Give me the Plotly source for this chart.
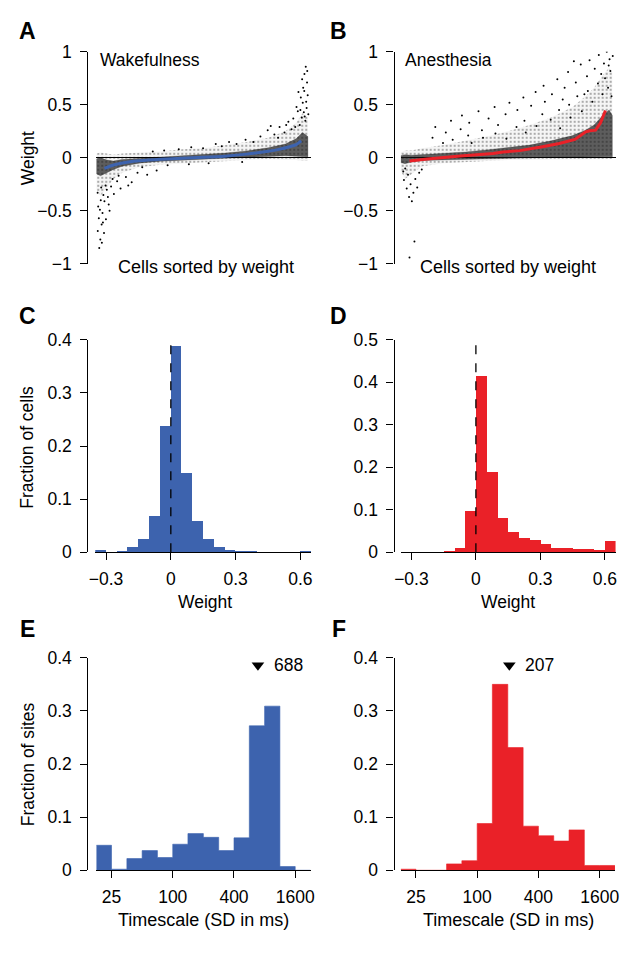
import math
import plotly.graph_objects as go

W, H = 636, 953
FONT = "Liberation Sans, Arial, Helvetica, sans-serif"
BLUE = "#3D63AE"
RED = "#EA2128"

# ---------------- DATA ----------------
# Panel A (Wakefulness): x = cell rank (% of cells sorted by weight), y = weight
a_line_x = [3.8, 7, 10, 15, 20, 30, 40, 50, 60, 70, 80, 85, 90, 93, 95.4]
a_line_y = [-0.10, -0.075, -0.058, -0.04, -0.028, -0.013, -0.003, 0.005, 0.016, 0.035, 0.062, 0.08, 0.105, 0.125, 0.16]
a_band_x = [0, 2, 5, 8, 12, 20, 30, 40, 50, 60, 70, 80, 88, 93, 96, 98.5]
a_core_lo = [-0.15, -0.17, -0.14, -0.11, -0.08, -0.05, -0.032, -0.022, -0.013, -0.004, 0.005, 0.015, 0.02, 0.015, 0.01, 0.01]
a_core_hi = [-0.01, 0.0, -0.02, -0.03, -0.015, -0.005, 0.01, 0.02, 0.03, 0.045, 0.065, 0.095, 0.13, 0.18, 0.24, 0.2]
a_sparse_lo = [-0.3, -0.36, -0.28, -0.2, -0.14, -0.09, -0.065, -0.05, -0.04, -0.03, -0.02, -0.01, -0.02, -0.02, -0.03, -0.03]
a_sparse_hi = [0.04, 0.05, 0.04, 0.03, 0.04, 0.05, 0.06, 0.08, 0.09, 0.12, 0.15, 0.19, 0.25, 0.33, 0.42, 0.38]
a_out_x = [1.4, 2.9, 0.7, 3.8, 1.9, 4.5, 0.9, 2.5, 3.3, 1.2, 4.9, 2.1, 5.8, 0.6, 3.6, 6.9, 1.7, 4.3,
           8.2, 2.6, 9.7, 5.4, 11.3, 7.6, 13.8, 3.1, 16.5, 10.4, 19.2, 23.7, 14.9, 28.1, 6.2, 2.3,
           97.5, 96.1, 98.1, 95.6, 97.9, 96.9, 94.7, 98.4, 96.3, 93.8, 97.3, 95.2, 98.7, 92.6, 96.6,
           94.1, 90.9, 97.7, 89.4, 93.2, 87.6, 95.8, 85.3, 91.7, 82.9, 88.4, 79.8, 84.6, 76.4, 73.1,
           69.5, 81.2, 65.3, 61.8, 58.4, 55.6, 49.7, 44.2, 38.4, 31.6, 26.3, 67.9, 52.3, 43.1, 33.2,
           21.4, 96.8, 98.2, 95.0, 97.0]
a_out_y = [-0.85, -0.52, -0.69, -0.41, -0.77, -0.58, -0.46, -0.63, -0.35, -0.57, -0.3, -0.4, -0.44,
           -0.33, -0.71, -0.27, -0.49, -0.26, -0.34, -0.8, -0.22, -0.37, -0.29, -0.2, -0.18, -0.61,
           -0.23, -0.17, -0.14, -0.16, -0.26, -0.12, -0.5, -0.28,
           0.86, 0.52, 0.71, 0.38, 0.47, 0.79, 0.31, 0.59, 0.66, 0.44, 0.35, 0.57, 0.41, 0.29, 0.43,
           0.62, 0.27, 0.53, 0.34, 0.48, 0.24, 0.74, 0.29, 0.37, 0.22, 0.31, 0.26, 0.19, 0.2, 0.15,
           0.17, 0.3, 0.13, 0.15, 0.11, 0.13, 0.09, 0.1, 0.08, 0.07, 0.06, -0.04, -0.05, -0.06, -0.07,
           -0.09, 0.63, 0.82, 0.45, 0.39]

# Panel B (Anesthesia)
b_line_x = [4.1, 12.4, 27.9, 43, 47.6, 55.4, 66, 73.8, 81.1, 86.1, 88, 90.7, 93, 95.3]
b_line_y = [-0.03, -0.01, 0.018, 0.04, 0.055, 0.068, 0.105, 0.135, 0.173, 0.245, 0.255, 0.261, 0.33, 0.446]
b_band_x = [0, 2, 5, 10, 20, 30, 40, 50, 60, 70, 80, 86, 90, 94, 97, 98.5]
b_core_lo = [-0.045, -0.055, -0.04, -0.025, -0.02, -0.015, -0.01, -0.005, 0.0, 0.005, 0.01, 0.01, 0.01, 0.01, 0.01, 0.01]
b_core_hi = [0.02, 0.03, 0.025, 0.03, 0.04, 0.055, 0.075, 0.095, 0.12, 0.16, 0.21, 0.26, 0.31, 0.4, 0.45, 0.4]
b_sparse_lo = [-0.12, -0.2, -0.16, -0.08, -0.05, -0.04, -0.03, -0.02, -0.02, -0.015, -0.01, -0.01, -0.01, -0.01, -0.01, -0.01]
b_sparse_hi = [0.05, 0.07, 0.07, 0.09, 0.12, 0.16, 0.2, 0.25, 0.31, 0.38, 0.48, 0.58, 0.66, 0.78, 0.85, 0.8]
b_out_x = [2.1, 3.4, 1.5, 4.6, 2.8, 5.9, 3.9, 6.8, 7.7, 5.2, 8.6, 9.8, 4.1, 6.4, 1.2,
           14.8, 16.1, 19.7, 21.0, 23.4, 24.2, 27.9, 28.5, 31.4, 31.9, 33.0, 36.2, 37.8, 38.3, 40.9,
           43.7, 44.1, 45.3, 48.8, 49.2, 50.6, 53.9, 54.3, 57.1, 57.6, 58.2, 60.7, 62.8, 63.2, 65.9,
           66.5, 67.1, 69.8, 70.4, 72.9, 73.7, 74.2, 76.3, 77.9, 78.4, 79.0, 81.5, 82.2, 83.8, 84.3,
           86.7, 87.1, 87.9, 89.2, 90.3, 91.8, 92.2, 93.9, 94.6, 95.1, 95.9, 96.5, 97.2, 97.6, 98.1,
           98.7, 96.8, 93.3, 85.5, 80.6, 75.4]
b_out_y = [-0.1, -0.16, -0.21, -0.25, -0.29, -0.33, -0.37, -0.2, -0.28, -0.41, -0.14, -0.11, -0.94,
           -0.79, -0.13,
           0.19, 0.29, 0.14, 0.24, 0.35, 0.17, 0.27, 0.4, 0.21, 0.33, 0.14, 0.44, 0.26, 0.19, 0.37,
           0.48, 0.23, 0.31, 0.41, 0.18, 0.52, 0.29, 0.45, 0.57, 0.35, 0.24, 0.49, 0.62, 0.3, 0.41,
           0.68, 0.53, 0.36, 0.6, 0.74, 0.45, 0.28, 0.66, 0.81, 0.5, 0.38, 0.71, 0.58, 0.88, 0.44,
           0.77, 0.63, 0.92, 0.53, 0.84, 0.7, 0.97, 0.6, 0.89, 0.75, 1.0, 0.66, 0.93, 0.82, 0.58,
           0.96, 0.87, 0.79, 0.6, 0.91, 0.55]

# Panels C, D: weight histograms (bin left edges, width 0.05)
w_bin_left = [-0.35, -0.3, -0.25, -0.2, -0.15, -0.1, -0.05, 0.0, 0.05, 0.1,
              0.15, 0.2, 0.25, 0.3, 0.35, 0.4, 0.45, 0.5, 0.55, 0.6]
c_frac = [0.006, 0.001, 0.003, 0.010, 0.025, 0.070, 0.239, 0.388, 0.150, 0.060,
          0.026, 0.010, 0.005, 0.003, 0.002, 0.001, 0.001, 0.001, 0.001, 0.002]
d_frac = [0.0, 0.0, 0.0, 0.001, 0.004, 0.011, 0.098, 0.415, 0.189, 0.081,
          0.048, 0.035, 0.029, 0.020, 0.012, 0.012, 0.009, 0.008, 0.006, 0.027]

# Panels E, F: timescale histograms (bin edges in ms, log-spaced)
t_edges = [17.7, 25, 35.4, 50, 70.7, 100, 141, 200, 283, 400, 566, 800, 1131, 1600, 2263]
e_frac = [0.047, 0.002, 0.022, 0.037, 0.024, 0.049, 0.069, 0.062, 0.037, 0.061, 0.272, 0.309, 0.007, 0.0]
f_frac = [0.002, 0.0, 0.0, 0.012, 0.018, 0.088, 0.350, 0.231, 0.083, 0.065, 0.055, 0.076, 0.009, 0.009]
e_median = 688
f_median = 207

# ---------------- HELPERS ----------------
def pxx(p):
    return p / W

def pxy(p):
    return 1 - p / H

FS = 17.5
tickfont = dict(family=FONT, size=FS, color="black")

def yax(pos, top, bot, rng, vals, texts, zeroline=False):
    return dict(anchor="free", position=pxx(pos), domain=[pxy(bot), pxy(top)], range=rng,
                tickmode="array", tickvals=vals, ticktext=texts, ticks="outside", ticklen=7,
                tickwidth=1.2, tickcolor="black", showline=True, linecolor="black", linewidth=1.2,
                showgrid=False, zeroline=zeroline, zerolinecolor="black", zerolinewidth=1.4,
                tickfont=tickfont, ticklabelstandoff=5, fixedrange=True)

def xax(l, r, anchor, rng, vals=None, texts=None, typ="linear", visible=True):
    d = dict(domain=[pxx(l), pxx(r)], anchor=anchor, range=rng, type=typ, showgrid=False,
             zeroline=False, fixedrange=True)
    if visible:
        d.update(tickmode="array", tickvals=vals, ticktext=texts, ticks="outside", ticklen=7,
                 tickwidth=1.2, tickcolor="black", showline=True, linecolor="black",
                 linewidth=1.2, tickfont=tickfont, ticklabelstandoff=4)
    else:
        d.update(showline=False, showticklabels=False, ticks="")
    return d

def band(xs, lo, hi):
    return xs + xs[::-1], hi + lo[::-1]

fig = go.Figure()

# ---------------- A & B scatter panels ----------------
for (bx, slo, shi, clo, chi, ox, oy, lx, ly, col, shape, xr, yr) in [
    (a_band_x, a_sparse_lo, a_sparse_hi, a_core_lo, a_core_hi, a_out_x, a_out_y, a_line_x, a_line_y, BLUE, "spline", "x", "y"),
    (b_band_x, b_sparse_lo, b_sparse_hi, b_core_lo, b_core_hi, b_out_x, b_out_y, b_line_x, b_line_y, RED, "linear", "x2", "y2"),
]:
    sx, sy = band(bx, slo, shi)
    fig.add_trace(go.Scatter(x=sx, y=sy, xaxis=xr, yaxis=yr, mode="lines", fill="toself",
                             line=dict(width=0), fillcolor="rgba(0,0,0,0.05)",
                             fillpattern=dict(shape=".", fgcolor="rgba(0,0,0,0.8)",
                                              bgcolor="rgba(0,0,0,0.04)", size=4, solidity=0.2,
                                              fillmode="overlay"),
                             hoverinfo="skip", showlegend=False))
    cx, cy = band(bx, clo, chi)
    fig.add_trace(go.Scatter(x=cx, y=cy, xaxis=xr, yaxis=yr, mode="lines", fill="toself",
                             line=dict(width=0.5, color="rgba(0,0,0,0.4)"),
                             fillcolor="rgba(20,20,20,0.68)",
                             hoverinfo="skip", showlegend=False))
    fig.add_trace(go.Scatter(x=ox, y=oy, xaxis=xr, yaxis=yr, mode="markers",
                             marker=dict(size=2, color="black", line=dict(width=0)),
                             hoverinfo="skip", showlegend=False))
    line = dict(color=col, width=3, shape=shape)
    if shape == "spline":
        line["smoothing"] = 0.6
    fig.add_trace(go.Scatter(x=lx, y=ly, xaxis=xr, yaxis=yr, mode="lines", line=line,
                             hoverinfo="skip", showlegend=False))

# ---------------- C & D histograms ----------------
for vals, col, xr, yr in [(c_frac, BLUE, "x3", "y3"), (d_frac, RED, "x4", "y4")]:
    fig.add_trace(go.Bar(x=w_bin_left, y=vals, width=0.05, offset=0, xaxis=xr, yaxis=yr,
                         marker=dict(color=col, line=dict(width=0)), hoverinfo="skip",
                         showlegend=False))

# ---------------- E & F histograms (log x) ----------------
ARROW_Y = 0.386
for vals, col, xr, yr, med in [(e_frac, BLUE, "x5", "y5", e_median), (f_frac, RED, "x6", "y6", f_median)]:
    fig.add_trace(go.Scatter(x=t_edges, y=vals + [vals[-1]], xaxis=xr, yaxis=yr, mode="lines",
                             line=dict(shape="hv", width=0.6, color=col), fill="tozeroy",
                             fillcolor=col, hoverinfo="skip", showlegend=False))
    fig.add_trace(go.Scatter(x=[med], y=[ARROW_Y], xaxis=xr, yaxis=yr, mode="markers",
                             marker=dict(symbol="triangle-down", size=11, color="black"),
                             hoverinfo="skip", showlegend=False))

log_rng = [math.log10(t_edges[0]), math.log10(t_edges[-1])]
t_ticks = [25, 100, 400, 1600]
wt_ticks = [-1, -0.5, 0, 0.5, 1]
wt_text = ["\u22121", "\u22120.5", "0", "0.5", "1"]

layout = dict(
    width=W, height=H, margin=dict(l=0, r=0, t=0, b=0), autosize=False,
    paper_bgcolor="white", plot_bgcolor="white", bargap=0, showlegend=False,
    xaxis=xax(91.7, 310, "y", [0, 100], visible=False),
    yaxis=yax(82.7, 42.7, 259.3, [-1, 1], wt_ticks, wt_text, zeroline=True),
    xaxis2=xax(401, 619.3, "y2", [0, 100], visible=False),
    yaxis2=yax(393.7, 42.7, 259.3, [-1, 1], wt_ticks, wt_text, zeroline=True),
    xaxis3=xax(90.7, 310, "y3", [-0.35, 0.65], [-0.3, 0, 0.3, 0.6], ["\u22120.3", "0", "0.3", "0.6"]),
    yaxis3=yax(82.7, 336.7, 554, [0, 0.4], [0, 0.1, 0.2, 0.3, 0.4], ["0", "0.1", "0.2", "0.3", "0.4"]),
    xaxis4=xax(401, 619.3, "y4", [-0.35, 0.65], [-0.3, 0, 0.3, 0.6], ["\u22120.3", "0", "0.3", "0.6"]),
    yaxis4=yax(393.7, 336.7, 554, [0, 0.5], [0, 0.1, 0.2, 0.3, 0.4, 0.5], ["0", "0.1", "0.2", "0.3", "0.4", "0.5"]),
    xaxis5=xax(91.7, 309.4, "y5", log_rng, t_ticks, [str(t) for t in t_ticks], typ="log"),
    yaxis5=yax(82.7, 661.7, 878.7, [0, 0.4], [0, 0.1, 0.2, 0.3, 0.4], ["0", "0.1", "0.2", "0.3", "0.4"]),
    xaxis6=xax(401, 618.7, "y6", log_rng, t_ticks, [str(t) for t in t_ticks], typ="log"),
    yaxis6=yax(393.7, 661.7, 878.7, [0, 0.4], [0, 0.1, 0.2, 0.3, 0.4], ["0", "0.1", "0.2", "0.3", "0.4"]),
)

def ann(text, x, y, size=FS, angle=0, xanchor="center"):
    return dict(text=text, x=pxx(x), y=pxy(y), xref="paper", yref="paper", showarrow=False,
                font=dict(family=FONT, size=size, color="black"), textangle=angle,
                xanchor=xanchor, yanchor="middle")

annotations = [
    ann("<b>A</b>", 21.7, 21.5, size=23), ann("<b>B</b>", 338, 21.5, size=23),
    ann("<b>C</b>", 21.7, 313, size=23), ann("<b>D</b>", 338, 313, size=23),
    ann("<b>E</b>", 21.7, 632.5, size=23), ann("<b>F</b>", 338, 632.5, size=23),
    ann("Weight", 21.7, 151, angle=-90),
    ann("Cells sorted by weight", 203.3, 262, size=18), ann("Cells sorted by weight", 510.3, 262, size=18),
    ann("Wakefulness", 93.3, 50.7, xanchor="left"), ann("Anesthesia", 403.3, 50.7, xanchor="left"),
    ann("Fraction of cells", 21.7, 446.7, angle=-90),
    ann("Weight", 201.7, 605), ann("Weight", 510.2, 605),
    ann("Fraction of sites", 21.7, 770, angle=-90),
    ann("Timescale (SD in ms)", 200.8, 930, size=18), ann("Timescale (SD in ms)", 510.2, 930, size=18),
]
for med, xr, yr in [(e_median, "x5", "y5"), (f_median, "x6", "y6")]:
    annotations.append(dict(text=str(med), x=math.log10(med), y=ARROW_Y, xref=xr, yref=yr,
                            showarrow=False, xanchor="left", yanchor="middle", xshift=14,
                            font=dict(family=FONT, size=FS, color="black")))
layout["annotations"] = annotations

layout["shapes"] = [
    dict(type="line", xref="x3", yref="y3", x0=0, x1=0, y0=0, y1=0.395,
         line=dict(color="black", width=1.3, dash="dash"), layer="above"),
    dict(type="line", xref="x4", yref="y4", x0=0, x1=0, y0=0, y1=0.49,
         line=dict(color="black", width=1.3, dash="dash"), layer="above"),
]

fig.update_layout(**layout)
fig.write_html("out.html", config={"displayModeBar": False},
               post_script="document.body.style.margin='0px';document.body.style.overflow='hidden';")
